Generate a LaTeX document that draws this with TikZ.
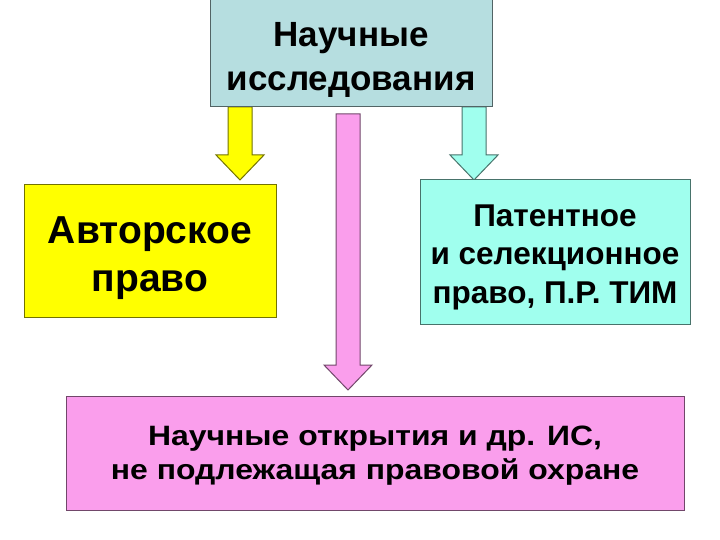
\documentclass[tikz,border=0pt]{standalone}
\usepackage{fontspec}
\setmainfont{Liberation Sans}
\newfontfamily\widesans{Liberation Sans}[FakeStretch=1.14]
\usetikzlibrary{calc}

\definecolor{topblue}{RGB}{182,222,224}
\definecolor{boxyellow}{RGB}{255,255,0}
\definecolor{boxcyan}{RGB}{160,255,238}
\definecolor{boxpink}{RGB}{250,158,236}

\tikzset{
  block/.style={draw=#1!45!black, fill=#1, line width=1pt, inner sep=0pt},
  blocktext/.style={align=center, inner sep=0pt},
  blockarrow/.style={draw=#1!45!black, fill=#1, line width=1pt, line join=miter},
}

% block arrow pointing down, from #2 to the tip #3
\newcommand{\blockdown}[3]{%
  \draw[blockarrow=#1] ($(#2)+(-12,0)$) -- ($(#3)+(-12,-25)$) -- ($(#3)+(-24,-25)$)
    -- (#3) -- ($(#3)+(24,-25)$) -- ($(#3)+(12,-25)$) -- ($(#2)+(12,0)$) -- cycle;}

\begin{document}
\begin{tikzpicture}[x=1pt, y=-1pt]
  \useasboundingbox (0,0) rectangle (720,540);

  \coordinate (ytop) at (240,107);
  \coordinate (ytip) at (240,180);
  \coordinate (ptop) at (348,114);
  \coordinate (ptip) at (348,390);
  \coordinate (ctop) at (474,107);
  \coordinate (ctip) at (474,180);

  \blockdown{boxyellow}{ytop}{ytip}
  \blockdown{boxpink}{ptop}{ptip}
  \blockdown{boxcyan}{ctop}{ctip}

  \node[block=topblue, minimum width=282pt, minimum height=107pt] (research) at (351,53.5) {};
  \node[block=boxyellow, minimum width=252pt, minimum height=132pt] (author) at (150,251) {};
  \node[block=boxcyan, minimum width=270pt, minimum height=144pt] (patent) at (555,252) {};
  \node[block=boxpink, minimum width=618pt, minimum height=114pt] (discovery) at (375,453) {};

  \node[blocktext, font=\fontsize{35}{44}\bfseries] (researchtext)
    at ($(research)+(0,6)$) {Научные\\исследования};
  \node[blocktext, font=\fontsize{39}{48}\bfseries] (authortext)
    at ($(author)+(0,7)$) {Авторское\\право};
  \node[blocktext, font=\fontsize{31.5}{38.5}\bfseries] (patenttext)
    at ($(patent)+(0,5)$) {Патентное\\и селекционное\\право, П.Р. ТИМ};
  \node[blocktext, font=\widesans\fontsize{28}{34}\bfseries] (discoverytext)
    at ($(discovery)+(0,3)$) {Научные открытия и др. ИС,\\не подлежащая правовой охране};
\end{tikzpicture}
\end{document}
